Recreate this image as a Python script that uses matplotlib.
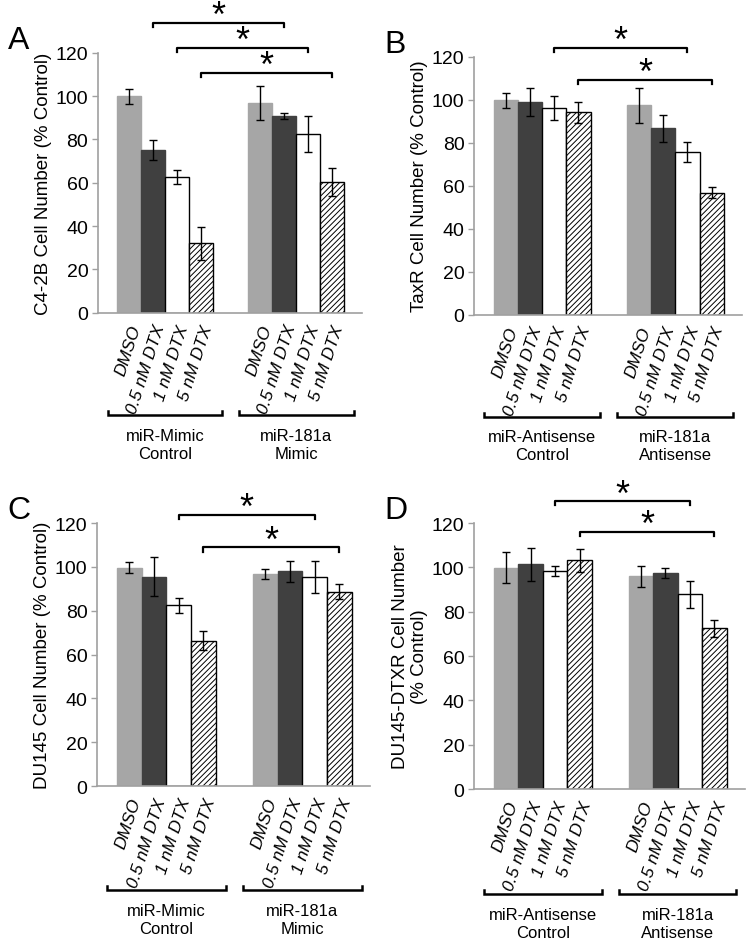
import matplotlib
matplotlib.use('Agg')
import matplotlib.pyplot as plt
import matplotlib.transforms as mtransforms
import numpy as np

plt.rcParams['font.family'] = ['Liberation Sans', 'DejaVu Sans']
plt.rcParams['hatch.linewidth'] = 0.7

# ---- data ----
treatments = ['DMSO', '0.5 nM DTX', '1 nM DTX', '5 nM DTX']

a_groups = ['miR-Mimic\nControl', 'miR-181a\nMimic']
a_means = [[99.9, 75.3, 62.7, 32.0], [96.8, 90.7, 82.5, 60.4]]
a_errs = [[3.3, 4.6, 3.3, 7.6], [7.8, 1.4, 8.4, 6.3]]
a_ylabel = 'C4-2B Cell Number (% Control)'

b_groups = ['miR-Antisense\nControl', 'miR-181a\nAntisense']
b_means = [[99.8, 98.9, 96.3, 94.1], [97.4, 86.6, 75.8, 56.7]]
b_errs = [[3.5, 6.6, 5.6, 5.0], [8.1, 6.4, 4.7, 2.6]]
b_ylabel = 'TaxR Cell Number (% Control)'

c_groups = ['miR-Mimic\nControl', 'miR-181a\nMimic']
c_means = [[99.7, 95.6, 82.5, 66.3], [96.7, 97.9, 95.2, 88.6]]
c_errs = [[2.3, 9.0, 3.4, 4.4], [2.3, 4.6, 7.3, 3.4]]
c_ylabel = 'DU145 Cell Number (% Control)'

d_groups = ['miR-Antisense\nControl', 'miR-181a\nAntisense']
d_means = [[99.8, 101.3, 98.3, 103.1], [95.9, 97.4, 87.8, 72.6]]
d_errs = [[7.0, 7.5, 2.3, 5.1], [4.9, 2.1, 6.2, 3.8]]
d_ylabel = 'DU145-DTXR Cell Number\n(% Control)'

# significance brackets: (treatment index, bracket height)
a_sig = [(1, 133.8), (2, 122.3), (3, 110.8)]
b_sig = [(2, 124.2), (3, 109.3)]
c_sig = [(2, 123.7), (3, 109.0)]
d_sig = [(2, 129.9), (3, 116.0)]

face = ['#a6a6a6', '#404040', 'white', 'white']
edge = ['#a6a6a6', '#404040', 'black', 'black']
hatch = [None, None, None, '//////']
GAP = 1.5
AXC = '#a0a0a0'


def panel(rect, letter, groups, means, errs, ylabel, sig):
    ax = fig.add_axes(rect)
    xs = []
    for g in range(2):
        x = np.arange(4) + g * (4 + GAP)
        xs.append(x)
        for i in range(4):
            ax.bar(x[i], means[g][i], width=1.0, color=face[i], edgecolor=edge[i],
                   hatch=hatch[i], linewidth=1.0, zorder=2)
        ax.errorbar(x, means[g], yerr=errs[g], fmt='none', ecolor='black',
                    elinewidth=1.0, capsize=3, capthick=1.0, zorder=3)
    allx = np.concatenate(xs)
    ax.set_xlim(-1.3, allx[-1] + 1.25)
    ax.set_ylim(0, 120)
    ax.set_yticks(np.arange(0, 121, 20))
    ax.set_xticks(allx)
    ax.set_xticklabels(treatments * 2, rotation=72, ha='right',
                       rotation_mode='anchor', style='italic', fontsize=12.5)
    ax.tick_params(axis='x', length=0, pad=7)
    ax.tick_params(axis='y', colors=AXC, labelcolor='black', labelsize=14,
                   length=4, width=1, direction='out', pad=3)
    for s in ['top', 'right']:
        ax.spines[s].set_visible(False)
    for s in ['left', 'bottom']:
        ax.spines[s].set_color(AXC)
        ax.spines[s].set_linewidth(1.2)
    ax.set_ylabel(ylabel, fontsize=13.5, labelpad=3, linespacing=1.1)

    # group brackets below the tick labels
    tr = mtransforms.blended_transform_factory(ax.transData, ax.transAxes)
    for g in range(2):
        x0 = xs[g][0] - 0.5 - 0.4
        x1 = xs[g][-1] + 0.5 + 0.4
        yb = -0.395
        ax.plot([x0, x0, x1, x1], [yb + 0.015, yb, yb, yb + 0.015], color='black',
                lw=1.8, transform=tr, clip_on=False, solid_joinstyle='miter')
        ax.text((x0 + x1) / 2, yb - 0.05, groups[g], transform=tr, ha='center',
                va='top', fontsize=12, linespacing=1.2)

    # significance brackets
    for i, yh in sig:
        x0, x1 = xs[0][i], xs[1][i]
        ax.plot([x0, x0, x1, x1], [yh - 2, yh, yh, yh - 2], color='black', lw=1.6,
                clip_on=False)
        ax.annotate('*', xy=((x0 + x1) / 2, yh), xytext=(0, -2.5),
                    textcoords='offset points', ha='center', va='baseline',
                    fontsize=26, annotation_clip=False)

    fig.text(rect[0] - 0.119, rect[1] + rect[3] + 0.005, letter, fontsize=23)
    return ax


fig = plt.figure(figsize=(7.54, 9.45), dpi=100)
panel([0.130, 0.668, 0.350, 0.275], 'A', a_groups, a_means, a_errs, a_ylabel, a_sig)
panel([0.629, 0.666, 0.355, 0.273], 'B', b_groups, b_means, b_errs, b_ylabel, b_sig)
panel([0.129, 0.167, 0.362, 0.2785], 'C', c_groups, c_means, c_errs, c_ylabel, c_sig)
panel([0.629, 0.164, 0.359, 0.2815], 'D', d_groups, d_means, d_errs, d_ylabel, d_sig)

fig.savefig('out.png', dpi=100)
